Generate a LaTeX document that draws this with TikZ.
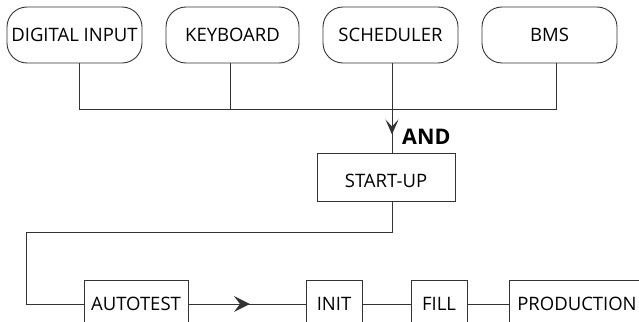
\documentclass[tikz,border=0pt]{standalone}
\usepackage{fontspec}
\setmainfont{Open Sans}
\usetikzlibrary{arrows.meta,positioning,decorations.markings}
\definecolor{Ink}{HTML}{333333}

\begin{document}
\begin{tikzpicture}[x=1pt,y=-1pt,
  source/.style={draw=Ink,line width=0.9pt,outer sep=0pt,rounded corners=20pt,minimum width=135pt,minimum height=56pt,inner sep=0pt,font=\fontsize{18.5}{22}\selectfont},
  stage/.style={draw=Ink,line width=0.9pt,outer sep=0pt,minimum height=48pt,inner sep=0pt,font=\fontsize{18.5}{22}\selectfont},
  wire/.style={draw=Ink,line width=0.9pt},
  flowarr/.style={postaction={decorate},decoration={markings,mark=at position #1 with {\arrow{Stealth[length=16pt,width=16pt,inset=6pt]}}}},
  joinarr/.style={postaction={decorate},decoration={markings,mark=at position #1 with {\arrow{Stealth[length=15pt,width=13pt,inset=7pt]}}}}
]
\useasboundingbox (0,0) rectangle (639,321);
\clip (0,0) rectangle (639,321);
\node[source] (din) at (74.5,35) {DIGITAL INPUT};
\node[source,minimum width=133pt,right=24pt of din] (kbd) {KEYBOARD};
\node[source,right=24pt of kbd] (sch) {SCHEDULER};
\node[source,right=24pt of sch] (bms) {BMS};
\node[stage,minimum width=138pt,text height=20pt,text depth=0pt] (start) at (386,177.5) {START-UP};
\node[font=\bfseries\fontsize{21.5}{25}\selectfont,anchor=west,inner sep=0pt] (and) at (402,137) {AND};
\node[stage,minimum width=104pt] (auto) at (136,304) {AUTOTEST};
\node[stage,minimum width=56pt] (init) at (334,304) {INIT};
\node[stage,minimum width=56pt] (fill) at (439,304) {FILL};
\node[stage,minimum width=136pt] (prod) at (577,304) {PRODUCTION};
\coordinate (turn) at (26,232);
\draw[wire] ([xshift=4.5pt]din.south) -- ++(0,46) -| ([xshift=6.5pt]bms.south);
\draw[wire] ([xshift=-2.5pt]kbd.south) -- ++(0,46);
\draw[wire,joinarr=0.79] ([xshift=1.5pt]sch.south) -- ([xshift=6pt]start.north);
\draw[wire] ([xshift=6pt]start.south) |- (turn) |- (auto.west);
\draw[wire,flowarr=0.525] (auto.east) -- (init.west);
\draw[wire] (init.east) -- (fill.west);
\draw[wire] (fill.east) -- (prod.west);
\end{tikzpicture}
\end{document}
